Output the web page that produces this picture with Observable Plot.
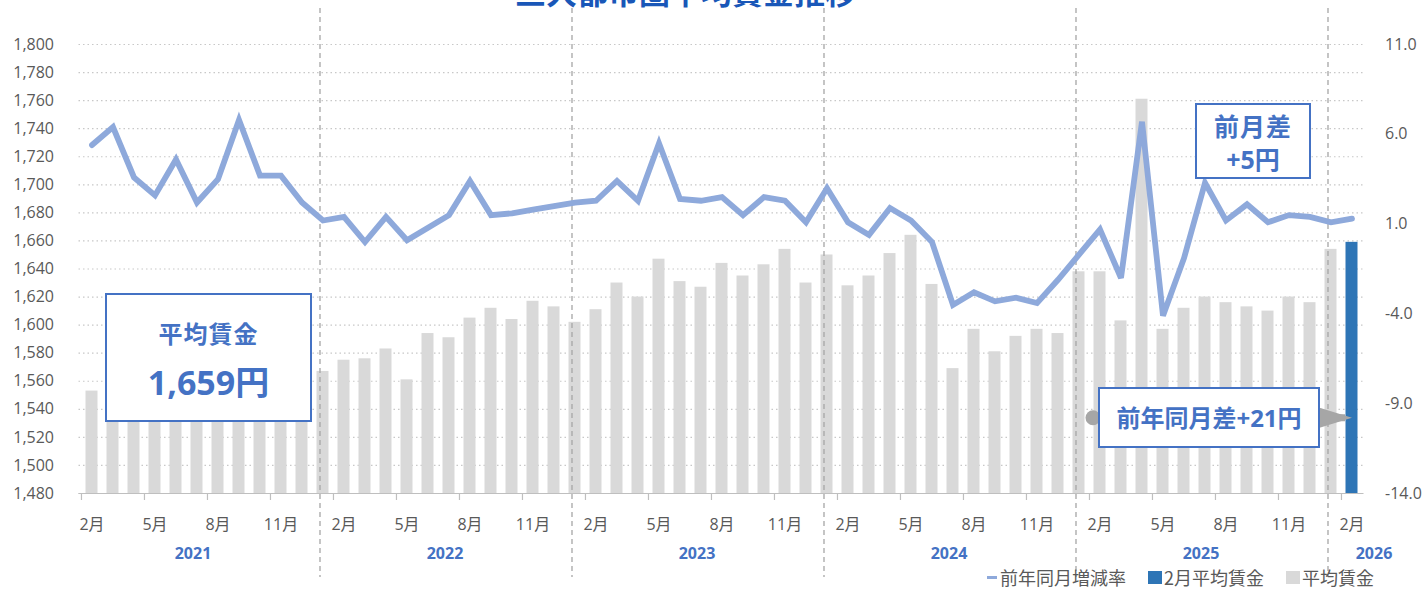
<!DOCTYPE html>
<html><head><meta charset="utf-8">
<script src="https://cdn.jsdelivr.net/npm/d3@7"></script>
<script src="https://cdn.jsdelivr.net/npm/@observablehq/plot@0.6"></script>
<style>
body{margin:0;background:#fff;font-family:"Open Sans","Noto Sans CJK JP",sans-serif;}
#wrap{position:relative;width:1426px;height:592px;overflow:hidden;}
#title{position:absolute;left:515px;top:-25px;font-size:31px;font-weight:bold;color:#1957B8;white-space:nowrap;line-height:31px;font-family:"Noto Sans CJK JP",sans-serif;}
.box{position:absolute;box-sizing:border-box;border:2px solid #4472C4;background:#fff;color:#4472C4;font-weight:bold;text-align:center;font-family:"Open Sans","Noto Sans CJK JP",sans-serif;}
#legend{position:absolute;top:567px;left:987px;font-size:18px;line-height:20px;color:#595959;white-space:nowrap;display:flex;align-items:center;font-family:"Noto Sans CJK JP",sans-serif;}
#legend .it{display:flex;align-items:center;margin-right:22px;}
#legend .sw{display:inline-block;margin-right:2px;}
</style></head><body><div id="wrap"></div>
<script>
const months = [
"2021-02","2021-03","2021-04","2021-05","2021-06","2021-07","2021-08","2021-09","2021-10","2021-11","2021-12",
"2022-01","2022-02","2022-03","2022-04","2022-05","2022-06","2022-07","2022-08","2022-09","2022-10","2022-11","2022-12",
"2023-01","2023-02","2023-03","2023-04","2023-05","2023-06","2023-07","2023-08","2023-09","2023-10","2023-11","2023-12",
"2024-01","2024-02","2024-03","2024-04","2024-05","2024-06","2024-07","2024-08","2024-09","2024-10","2024-11","2024-12",
"2025-01","2025-02","2025-03","2025-04","2025-05","2025-06","2025-07","2025-08","2025-09","2025-10","2025-11","2025-12",
"2026-01","2026-02"];
const wages = [
1553,1576,1562,1561,1581,1568,1553,1589,1579,1589,1582,
1567,1575,1576,1583,1561,1594,1591,1605,1612,1604,1617,1613,
1602,1611,1630,1620,1647,1631,1627,1644,1635,1643,1654,1630,
1650,1628,1635,1651,1664,1629,1569,1597,1581,1592,1597,1594,
1638,1638,1603,1761,1597,1612,1620,1616,1613,1610,1620,1616,
1654,1659];
const yoyRates = [
5.4,6.4,3.6,2.6,4.6,2.2,3.5,6.8,3.7,3.7,2.2,
1.2,1.4,0.0,1.4,0.1,0.8,1.5,3.4,1.5,1.6,1.8,2.0,
2.2,2.3,3.4,2.3,5.5,2.4,2.3,2.5,1.5,2.5,2.3,1.1,
3.0,1.1,0.4,1.9,1.2,0.0,-3.5,-2.8,-3.3,-3.1,-3.4,-2.1,
-0.7,0.7,-2.0,6.7,-4.1,-0.9,3.3,1.2,2.1,1.1,1.5,1.4,
1.1,1.3];
const leftTicks = [1480,1500,1520,1540,1560,1580,1600,1620,1640,1660,1680,1700,1720,1740,1760,1780,1800];
const rightTicks = [-14,-9,-4,1,6,11];
const tickMonths = months.filter(m => ["02","05","08","11"].includes(m.slice(5)));
const yearSeparators = ["2022-01","2023-01","2024-01","2025-01","2026-01"];
const yearLabels = [
  {m:"2021-07", year:"2021"},{m:"2022-07", year:"2022"},{m:"2023-07", year:"2023"},
  {m:"2024-07", year:"2024"},{m:"2025-07", year:"2025"}];
const lastYearLabel = [{m:"2026-02", year:"2026"}];
const yoyArrow = [{from:"2025-02", to:"2026-02", level:1534}];

const leftMin = 1480, leftMax = 1800, rMin = -14, rMax = 11;
const toLeft = v => leftMin + (v - rMin) * (leftMax - leftMin) / (rMax - rMin);
const toRight = v => rMin + (v - leftMin) * (rMax - rMin) / (leftMax - leftMin);

const rows = months.map((m, i) => ({m, wage: wages[i], rate: yoyRates[i], current: i === months.length - 1}));

const W = 1426, H = 592, mL = 78.5, mR = 62.5, mT = 44, mB = 99;
const step = (W - mL - mR) / months.length;

const arrowHead = {draw(ctx){ ctx.moveTo(-34,-10.5); ctx.lineTo(0,0); ctx.lineTo(-34,10.5); ctx.closePath(); }};

const chart = Plot.plot({
  width: W, height: H, marginLeft: mL, marginRight: mR, marginTop: mT, marginBottom: mB,
  x: {type: "band", domain: months, padding: 0, axis: null},
  y: {domain: [leftMin, leftMax], axis: null},
  style: {fontFamily: '"Open Sans","Noto Sans CJK JP",sans-serif', fontSize: "16px", color: "#595959", background: "transparent", overflow: "visible"},
  marks: [
    Plot.gridY(leftTicks, {stroke: "#C8C8C8", strokeOpacity: 1, strokeDasharray: "1.5,3", strokeWidth: 1.2}),
    Plot.barY(rows.filter(d => !d.current), {x: "m", y1: leftMin, y2: "wage", fill: "#D9D9D9", insetLeft: 4.5, insetRight: 4.5}),
    Plot.barY(rows.filter(d => d.current), {x: "m", y1: leftMin, y2: "wage", fill: "#2E75B6", insetLeft: 4.5, insetRight: 4.5}),
    Plot.ruleY([leftMin], {stroke: "#BFBFBF", strokeWidth: 1.2}),
    Plot.ruleX(tickMonths, {x: d => d, dx: -step/2, insetTop: (H - mT - mB), insetBottom: -7, stroke: "#BFBFBF", strokeWidth: 1.2}),
    Plot.ruleX(yearSeparators, {x: d => d, dx: -3, insetTop: -36, insetBottom: -84, stroke: "#A6A6A6", strokeWidth: 1.3, strokeDasharray: "5,4"}),
    Plot.link(yoyArrow, {x1: "from", x2: "to", y1: "level", y2: "level", dx: -7, stroke: "#A6A6A6", strokeWidth: 7}),
    Plot.dot(yoyArrow, {x: "from", y: "level", dx: -7, r: 7.5, fill: "#A6A6A6", stroke: null}),
    Plot.dot(yoyArrow, {x: "to", y: "level", symbol: arrowHead, fill: "#A6A6A6", stroke: null}),
    Plot.line(rows, {x: "m", y: d => toLeft(d.rate), stroke: "#8EA9DB", strokeWidth: 5.8, strokeLinejoin: "miter", strokeMiterlimit: 3}),
    Plot.axisY(leftTicks, {anchor: "left", tickSize: 0, tickPadding: 25, tickFormat: d3.format(","), label: null, fontSize: 16, fill: "#595959"}),
    Plot.axisY(rightTicks.map(toLeft), {anchor: "right", tickSize: 0, tickPadding: 21, tickFormat: v => (Math.round(toRight(v)*10)/10).toFixed(1), label: null, fontSize: 16, fill: "#595959", textAnchor: "start"}),
    Plot.axisX(tickMonths, {anchor: "bottom", tickSize: 0, tickPadding: 25, tickFormat: m => (+m.slice(5)) + "月", label: null, fontSize: 16, fill: "#595959"}),
    Plot.text(yearLabels, {x: "m", text: "year", frameAnchor: "bottom", lineAnchor: "middle", dy: 60, dx: -4, fill: "#4472C4", fontWeight: "bold", fontSize: 16}),
    Plot.text(lastYearLabel, {x: "m", text: "year", frameAnchor: "bottom", lineAnchor: "middle", dy: 60, dx: 22, fill: "#4472C4", fontWeight: "bold", fontSize: 16})
  ]
});

const wrap = document.getElementById("wrap");
wrap.appendChild(chart);
chart.style.position = "absolute"; chart.style.left = "0"; chart.style.top = "0";

const title = document.createElement("div");
title.id = "title"; title.textContent = "三大都市圏平均賃金推移";
wrap.appendChild(title);

function addBox(left, top, w, h, html){
  const b = document.createElement("div");
  b.className = "box";
  Object.assign(b.style, {left: left+"px", top: top+"px", width: w+"px", height: h+"px"});
  b.innerHTML = html;
  wrap.appendChild(b);
}
const last = rows[rows.length-1], prev = rows[rows.length-2], yearAgo = rows[rows.length-13];
addBox(105, 293, 207, 129,
  `<div style="font-size:24px;line-height:24px;margin-top:26px;letter-spacing:1px;font-family:'Noto Sans CJK JP'">平均賃金</div>
   <div style="font-size:34px;line-height:34px;margin-top:19px;">${d3.format(",")(last.wage)}<span style="font-family:'Noto Sans CJK JP'">円</span></div>`);
addBox(1195, 103, 116, 76,
  `<div style="font-size:25px;line-height:25px;margin-top:8px;letter-spacing:1px;font-family:'Noto Sans CJK JP'">前月差</div>
   <div style="font-size:25px;line-height:25px;margin-top:8px;">+${last.wage - prev.wage}<span style="font-family:'Noto Sans CJK JP'">円</span></div>`);
addBox(1098, 387, 222, 61,
  `<div style="font-size:24px;line-height:24px;margin-top:16px;"><span style="font-family:'Noto Sans CJK JP'">前年同月差</span>+${last.wage - yearAgo.wage}<span style="font-family:'Noto Sans CJK JP'">円</span></div>`);

const legend = document.createElement("div");
legend.id = "legend";
legend.innerHTML = `
 <span class="it"><span class="sw" style="width:10px;height:3px;background:#8EA9DB;margin-right:3px"></span>前年同月増減率</span>
 <span class="it"><span class="sw" style="width:14px;height:13px;background:#2E75B6"></span>2月平均賃金</span>
 <span class="it"><span class="sw" style="width:14px;height:13px;background:#D9D9D9"></span>平均賃金</span>`;
wrap.appendChild(legend);
</script>
</body></html>
